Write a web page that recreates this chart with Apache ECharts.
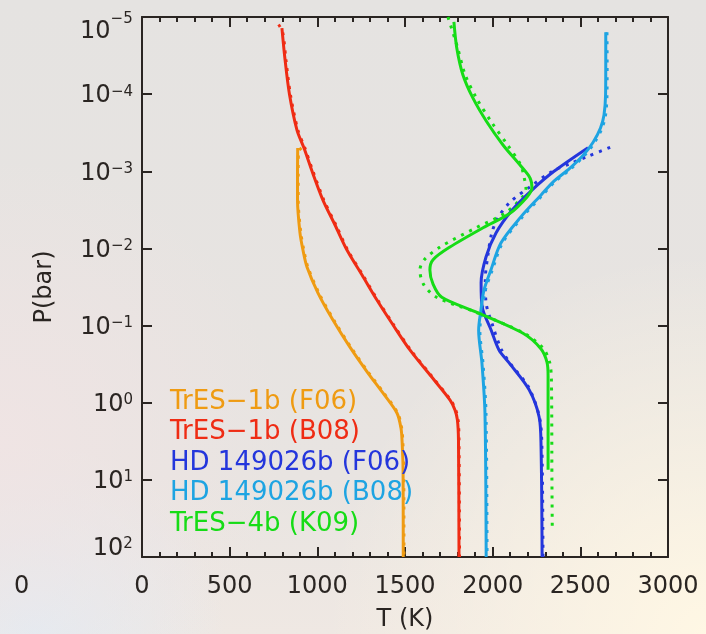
<!DOCTYPE html>
<html>
<head>
<meta charset="utf-8">
<script src="https://cdn.jsdelivr.net/npm/echarts@6/dist/echarts.min.js"></script>
<style>
  html, body { margin: 0; padding: 0; background: #e7e4e2; }
  #chart { width: 706px; height: 634px; }
</style>
</head>
<body>
<div id="chart"></div>
<script>
// Atmospheric temperature-pressure profiles, points as [T (K), P (bar)].
// Solid curves and their dotted companion models.

const tres1bF06 = [[888, 5e-4], [887, 1e-3], [887, 2.36e-3], [901, 6.3e-3], [918, 1.05e-2], [941, 1.74e-2],
  [1004, 3.79e-2], [1089, 8.47e-2], [1186, 0.19], [1289, 0.412], [1374, 0.748], [1454, 1.36],
  [1477, 2.13], [1483, 3.04], [1489, 7.45], [1490, 100]];
const tres1bF06Dotted = [[910, 5e-4], [893, 5.5e-4], [891, 1e-3], [891, 2.36e-3], [906, 6.3e-3], [923, 1.05e-2],
  [946, 1.74e-2], [1009, 3.79e-2], [1094, 8.47e-2], [1191, 0.19], [1294, 0.412], [1379, 0.748],
  [1458, 1.36], [1481, 2.13], [1487, 3.04], [1493, 7.45], [1494, 100]];

const tres1bB08 = [[798, 1.39e-5], [816, 3.6e-5], [841, 1e-4], [884, 2.92e-4], [924, 5e-4], [970, 1e-3],
  [1032, 2.36e-3], [1101, 4.97e-3], [1169, 1.05e-2], [1255, 2.21e-2], [1340, 4.67e-2], [1432, 9.84e-2],
  [1528, 0.207], [1643, 0.438], [1757, 0.923], [1785, 1.24], [1799, 1.68], [1805, 3.04], [1808, 100]];
const tres1bB08Dotted = [[779, 1.25e-5], [803, 1.6e-5], [821, 3.6e-5], [846, 1e-4], [889, 2.92e-4], [929, 5e-4],
  [975, 1e-3], [1037, 2.36e-3], [1106, 4.97e-3], [1173, 1.05e-2], [1259, 2.21e-2], [1344, 4.67e-2],
  [1436, 9.84e-2], [1532, 0.207], [1647, 0.438], [1760, 0.923], [1789, 1.24], [1803, 1.68],
  [1808, 3.04], [1811, 100]];

const hd149026bF06 = [[2544, 4.94e-4], [2350, 1e-3], [2224, 1.75e-3], [2110, 3.2e-3], [2019, 6.3e-3],
  [1962, 1.29e-2], [1934, 2.8e-2], [1940, 5.7e-2], [1991, 0.114], [2036, 0.207], [2094, 0.305],
  [2208, 0.68], [2265, 1.53], [2276, 3.75], [2282, 100]];
const hd149026bF06Dotted = [[2670, 4.9e-4], [2550, 6.3e-4], [2445, 7.9e-4], [2340, 1e-3], [2215, 1.58e-3],
  [2100, 2.5e-3], [2030, 4e-3], [1995, 6.3e-3], [1972, 1.26e-2], [1958, 2.5e-2], [1962, 5e-2],
  [2000, 0.1], [2048, 0.2], [2105, 0.32], [2205, 0.63], [2268, 1.58], [2281, 4], [2287, 100]];

const hd149026bB08 = [[2645, 1.58e-5], [2645, 4.2e-5], [2644, 1.02e-4], [2635, 1.86e-4], [2615, 2.75e-4],
  [2573, 4.2e-4], [2516, 6.2e-4], [2441, 9.1e-4], [2344, 1.38e-3], [2275, 2.04e-3], [2161, 3.9e-3],
  [2047, 8.5e-3], [1990, 1.9e-2], [1950, 3.5e-2], [1933, 6.3e-2], [1920, 0.115], [1939, 0.31],
  [1956, 1.35], [1963, 100]];
const hd149026bB08Dotted = [[2652, 1.58e-5], [2653, 4.2e-5], [2652, 1.02e-4], [2644, 1.86e-4], [2624, 2.75e-4],
  [2582, 4.2e-4], [2525, 6.2e-4], [2450, 9.1e-4], [2353, 1.38e-3], [2284, 2.04e-3], [2170, 3.9e-3],
  [2056, 8.5e-3], [1998, 1.9e-2], [1958, 3.5e-2], [1940, 6.3e-2], [1927, 0.115], [1945, 0.31],
  [1962, 1.35], [1968, 100]];

const tres4bK09 = [[1779, 1.16e-5], [1795, 2.5e-5], [1830, 5.6e-5], [1887, 1.12e-4], [1967, 2.3e-4],
  [2059, 4.56e-4], [2156, 8.3e-4], [2213, 1.22e-3], [2224, 1.65e-3], [2196, 2.15e-3], [2099, 3.5e-3],
  [1945, 5.4e-3], [1756, 9.6e-3], [1660, 1.4e-2], [1642, 1.9e-2], [1660, 2.9e-2], [1710, 4.3e-2],
  [1900, 6.6e-2], [2173, 0.126], [2275, 0.2], [2310, 0.3], [2316, 0.45], [2316, 7.4]];
const tres4bK09Dotted = [[1745, 1.0e-5], [1800, 2.5e-5], [1843, 5.6e-5], [1907, 1.12e-4], [1993, 2.3e-4],
  [2085, 4.56e-4], [2160, 8.3e-4], [2180, 1.22e-3], [2190, 1.65e-3], [2170, 2.15e-3], [2070, 3.5e-3],
  [1905, 5.4e-3], [1700, 9.6e-3], [1610, 1.4e-2], [1585, 1.9e-2], [1605, 2.9e-2], [1680, 4.3e-2],
  [1895, 6.6e-2], [2180, 0.126], [2290, 0.2], [2325, 0.3], [2335, 0.5], [2338, 10], [2340, 45]];

const profileNames = ['TrES−1b (F06)', 'TrES−1b (B08)', 'HD 149026b (F06)', 'HD 149026b (B08)', 'TrES−4b (K09)'];
const profileColors = ['#ef9b12', '#ef2c14', '#2436dc', '#1ea4e2', '#16dc16'];
const solidProfiles = [tres1bF06, tres1bB08, hd149026bF06, hd149026bB08, tres4bK09];
const dottedProfiles = [tres1bF06Dotted, tres1bB08Dotted, hd149026bF06Dotted, hd149026bB08Dotted, tres4bK09Dotted];

const FONT = 'DejaVu Sans';
const INK = '#2a2522';

// Pressure decade labels: "10" with a raised exponent. The end labels carry a
// tall spacer so they are nudged inward, within the frame height.
function decadeLabel(v) {
  const e = Math.round(Math.log10(v));
  const exp = e < 0 ? '−' + (-e) : String(e);
  if (e === -5) return '{bt|10}{st|' + exp + '}{ht| }';
  if (e === 2) return '{bb|10}{sb|' + exp + '}{hb| }';
  return '{b|10}{s|' + exp + '}';
}

const base = { fontFamily: FONT, fontSize: 24, lineHeight: 24, color: INK };
const sup = { fontFamily: FONT, fontSize: 15, color: INK };

const series = [];
profileNames.forEach((name, i) => {
  series.push({
    name, type: 'line', data: solidProfiles[i], xAxisIndex: 0, yAxisIndex: 0,
    symbol: 'none', smooth: 0.3, z: 3,
    lineStyle: { color: profileColors[i], width: 3 }, itemStyle: { color: profileColors[i] }
  });
  series.push({
    name, type: 'line', data: dottedProfiles[i], xAxisIndex: 0, yAxisIndex: 0,
    symbol: 'none', smooth: 0.3, z: 2,
    lineStyle: { color: profileColors[i], width: 3, type: [3, 6] }, itemStyle: { color: profileColors[i] }
  });
});

const chart = echarts.init(document.getElementById('chart'), null, { renderer: 'canvas' });

const axisLine = { show: true, onZero: false, lineStyle: { color: INK, width: 2 } };
const majorTick = { show: true, inside: true, length: 10, lineStyle: { color: INK, width: 2 } };
const minorTick = { show: true, splitNumber: 5, length: 5, lineStyle: { color: INK, width: 2 } };

chart.setOption({
  animation: false,
  backgroundColor: {
    type: 'linear', x: 0, y: 0, x2: 0, y2: 1,
    colorStops: [
      { offset: 0, color: '#e5e3e1' },
      { offset: 0.75, color: '#e8e4e1' },
      { offset: 1, color: '#efe8e3' }
    ]
  },
  graphic: [
    {
      type: 'rect', z: -10, silent: true,
      shape: { x: 0, y: 0, width: 706, height: 634 },
      style: { fill: { type: 'radial', x: 1, y: 1, r: 0.6,
        colorStops: [{ offset: 0, color: 'rgba(255,247,228,1)' }, { offset: 1, color: 'rgba(255,247,228,0)' }] } }
    },
    {
      type: 'rect', z: -10, silent: true,
      shape: { x: 0, y: 0, width: 706, height: 634 },
      style: { fill: { type: 'radial', x: 0.05, y: 1, r: 0.3,
        colorStops: [{ offset: 0, color: 'rgba(226,236,244,1)' }, { offset: 1, color: 'rgba(226,236,244,0)' }] } }
    },
    {
      type: 'rect', z: -10, silent: true,
      shape: { x: 0, y: 0, width: 706, height: 634 },
      style: { fill: { type: 'radial', x: 0, y: 0.7, r: 0.45,
        colorStops: [{ offset: 0, color: 'rgba(240,228,228,0.9)' }, { offset: 1, color: 'rgba(240,228,228,0)' }] } }
    },
    {
      type: 'text', left: 14, top: 575, silent: true,
      style: { text: '0', font: '24px "' + FONT + '"', fill: INK }
    }
  ],
  grid: { left: 142, top: 17, width: 526, height: 540, show: false, containLabel: false, outerBoundsMode: 'none' },
  legend: {
    orient: 'vertical', left: 160, top: 384, itemGap: 4.5,
    icon: 'none', itemWidth: 0, itemHeight: 0,
    selectedMode: false,
    textStyle: { fontFamily: FONT, fontSize: 26, lineHeight: 26 },
    data: profileNames.map((n, i) => ({ name: n, textStyle: { color: profileColors[i] } }))
  },
  xAxis: [
    {
      type: 'value', position: 'bottom', min: 0, max: 3000, interval: 500,
      name: 'T (K)', nameLocation: 'middle', nameGap: 51,
      nameTextStyle: { fontFamily: FONT, fontSize: 24, color: INK },
      axisLine, axisTick: majorTick, minorTick,
      splitLine: { show: false },
      axisLabel: { margin: 18, fontFamily: FONT, fontSize: 24, color: INK, formatter: v => String(v) }
    },
    {
      type: 'value', position: 'top', min: 0, max: 3000, interval: 500,
      axisLine, axisTick: majorTick, minorTick,
      splitLine: { show: false },
      axisLabel: { show: false }
    }
  ],
  yAxis: [
    {
      type: 'log', logBase: 10, inverse: true, position: 'left', min: 1e-5, max: 100,
      name: 'P(bar)', nameLocation: 'middle', nameGap: 85, nameRotate: 90,
      nameTextStyle: { fontFamily: FONT, fontSize: 24, color: INK },
      axisLine, axisTick: majorTick,
      minorTick: { show: false },
      splitLine: { show: false },
      axisLabel: {
        margin: 9, color: INK, formatter: decadeLabel, verticalAlign: 'middle',
        padding: [4, 0, 0, 0],
        rich: {
          b: Object.assign({}, base, { verticalAlign: 'middle' }),
          s: Object.assign({}, sup, { lineHeight: 6, verticalAlign: 'top' }),
          bt: Object.assign({}, base, { verticalAlign: 'bottom' }),
          st: Object.assign({}, sup, { lineHeight: 15, verticalAlign: 'middle' }),
          ht: { fontSize: 1, lineHeight: 50 },
          bb: Object.assign({}, base, { verticalAlign: 'top' }),
          sb: Object.assign({}, sup, { lineHeight: 6, verticalAlign: 'top' }),
          hb: { fontSize: 1, lineHeight: 44 }
        }
      }
    },
    {
      type: 'log', logBase: 10, inverse: true, position: 'right', min: 1e-5, max: 100,
      axisLine, axisTick: majorTick,
      splitLine: { show: false },
      axisLabel: { show: false }
    }
  ],
  series
});
</script>
</body>
</html>
